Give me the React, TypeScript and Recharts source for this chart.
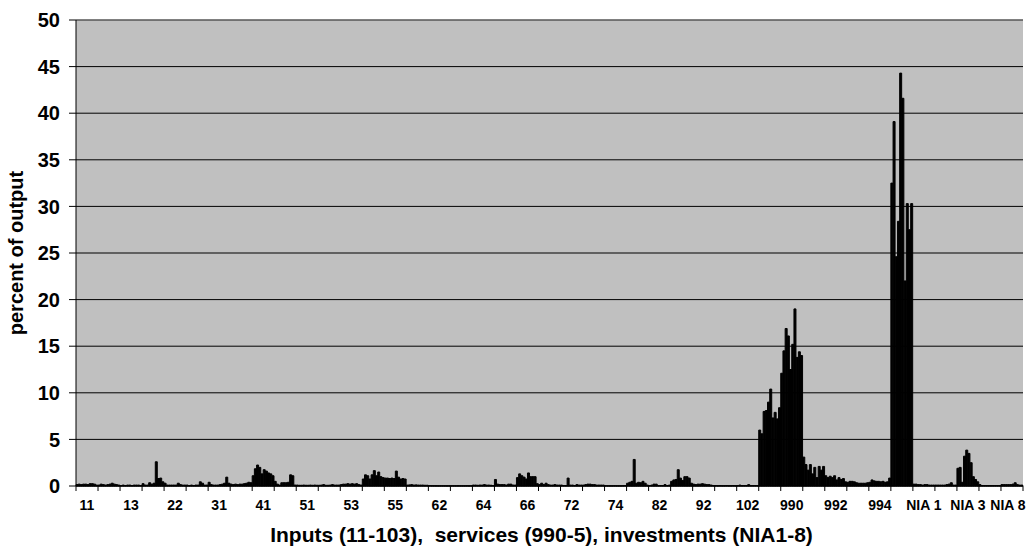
import { BarChart, Bar, XAxis, YAxis, CartesianGrid, ReferenceLine } from 'recharts';

// one label every 20 sectors, one tick mark every 10
const tickLabels = [
    '11', '13', '22', '31', '41', '51', '53', '55', '62', '64', '66',
    '72', '74', '82', '92', '102', '990', '992', '994', 'NIA 1', 'NIA 3', 'NIA 8',
];

const yTicks = [0, 5, 10, 15, 20, 25, 30, 35, 40, 45, 50];

// percent of output, one value per sector (10 per tick interval)
const values = [
    0.15, 0.2, 0.15, 0.2, 0.2, 0.15, 0.25, 0.25, 0.2, 0.1,
    0.1, 0.2, 0.15, 0.1, 0.15, 0.2, 0.3, 0.2, 0.15, 0.1,
    0.05, 0.1, 0.05, 0.1, 0.1, 0.05, 0.1, 0.1, 0.1, 0.05,
    0.25, 0.1, 0.1, 0.35, 0.2, 0.3, 2.6, 0.8, 0.85, 0.45,
    0.3, 0.1, 0.1, 0.1, 0.1, 0.1, 0.3, 0.15, 0.1, 0.1,
    0.1, 0.05, 0.1, 0.05, 0.1, 0.1, 0.45, 0.3, 0.1, 0.1,
    0.4, 0.15, 0.1, 0.1, 0.1, 0.15, 0.2, 0.3, 0.95, 0.3,
    0.2, 0.15, 0.2, 0.15, 0.2, 0.2, 0.25, 0.3, 0.4, 0.35,
    1.1, 1.85, 2.25, 2.0, 1.3, 1.75, 1.6, 1.4, 1.3, 1.1,
    0.5, 0.2, 0.1, 0.35, 0.35, 0.35, 0.4, 1.2, 1.1, 0.1,
    0.1, 0.08, 0.08, 0.1, 0.08, 0.08, 0.1, 0.08, 0.1, 0.08,
    0.08, 0.1, 0.15, 0.08, 0.08, 0.1, 0.15, 0.1, 0.1, 0.1,
    0.15, 0.2, 0.2, 0.25, 0.2, 0.25, 0.2, 0.25, 0.15, 0.1,
    0.75, 1.2, 1.1, 0.75, 1.2, 1.65, 1.1, 1.5, 1.0, 0.9,
    0.85, 0.85, 0.8, 0.85, 0.8, 1.6, 0.95, 0.75, 0.8, 0.75,
    0.1, 0.12, 0.15, 0.1, 0.12, 0.1, 0.1, 0.1, 0.08, 0.08,
    0.05, 0.03, 0.03, 0.03, 0.02, 0.02, 0.02, 0.02, 0.02, 0.02,
    0.02, 0.02, 0.02, 0.03, 0.02, 0.02, 0.02, 0.03, 0.02, 0.02,
    0.1, 0.1, 0.08, 0.1, 0.1, 0.15, 0.1, 0.1, 0.08, 0.05,
    0.7, 0.2, 0.15, 0.15, 0.15, 0.1, 0.2, 0.2, 0.1, 0.1,
    0.9, 1.3, 1.1, 0.95, 0.75, 1.4, 1.0, 1.0, 1.0, 0.25,
    0.15, 0.3, 0.15, 0.3, 0.15, 0.1, 0.1, 0.15, 0.1, 0.1,
    0.1, 0.05, 0.05, 0.85, 0.1, 0.1, 0.05, 0.15, 0.1, 0.1,
    0.1, 0.15, 0.2, 0.2, 0.15, 0.15, 0.1, 0.1, 0.1, 0.1,
    0.03, 0.02, 0.02, 0.02, 0.03, 0.02, 0.02, 0.02, 0.03, 0.05,
    0.3, 0.4, 0.5, 2.85, 0.3, 0.4, 0.35, 0.5, 0.3, 0.1,
    0.05, 0.1, 0.2, 0.2, 0.05, 0.05, 0.05, 0.15, 0.05, 0.1,
    0.5, 0.65, 0.7, 1.75, 0.85, 0.6, 1.0, 1.0, 0.85, 0.3,
    0.2, 0.15, 0.2, 0.2, 0.25, 0.2, 0.15, 0.15, 0.1, 0.05,
    0.05, 0.03, 0.05, 0.03, 0.03, 0.05, 0.03, 0.03, 0.05, 0.03,
    0.05, 0.1, 0.05, 0.05, 0.05, 0.15, 0.05, 0.05, 0.05, 0.05,
    6.0, 5.6, 8.0, 8.1, 9.0, 10.4, 7.3, 7.9, 7.2, 8.4,
    12.1, 14.5, 16.9, 16.1, 12.5, 15.2, 19.0, 13.8, 14.4, 14.0,
    3.1, 2.3, 1.7, 2.3, 1.3, 2.0, 0.9, 2.1, 1.7, 2.1,
    1.1, 0.9, 1.05, 0.9, 1.1, 0.65, 0.9, 0.7, 0.8, 0.45,
    0.4, 0.5, 0.5, 0.45, 0.35, 0.3, 0.3, 0.3, 0.3, 0.35,
    0.4, 0.65, 0.55, 0.5, 0.5, 0.45, 0.5, 0.4, 0.45, 0.85,
    32.5, 39.1, 24.6, 28.4, 44.3, 41.6, 22.0, 30.3, 27.5, 30.3,
    0.2, 0.2, 0.15, 0.15, 0.1, 0.15, 0.15, 0.1, 0.1, 0.1,
    0.1, 0.1, 0.1, 0.1, 0.1, 0.15, 0.2, 0.35, 0.1, 0.1,
    1.9, 2.0, 0.4, 3.2, 3.85, 3.5, 2.5, 1.0, 0.7, 0.45,
    0.15, 0.05, 0.05, 0.05, 0.05, 0.05, 0.05, 0.05, 0.05, 0.05,
    0.15, 0.15, 0.15, 0.15, 0.15, 0.2, 0.35, 0.15, 0.1, 0.1,
];

const data = values.map((v, i) => ({ i, v }));

const FONT = '"Liberation Sans", Arial, sans-serif';
const W = 1032;
const H = 550;
const MARGIN = { top: 20, right: 9, left: 0, bottom: 0 };
const Y_W = 76;
const X_H = 64;
const PLOT_W = W - MARGIN.left - MARGIN.right - Y_W;
const PLOT_BOTTOM = H - MARGIN.bottom - X_H;
const BAND = PLOT_W / values.length;
const GROUP = 10;

function XTick({ x, payload }: any) {
    const idx = payload.value as number;
    const left = x - BAND / 2;
    const marks = [left];
    if (idx + GROUP >= values.length) marks.push(left + GROUP * BAND);
    const g = idx / GROUP;
    const label = g % 2 === 0 ? tickLabels[g / 2] : null;
    const cx = Math.min(left + (GROUP / 2) * BAND, W - 24);
    return (
        <g>
            {marks.map((m) => (
                <line key={m} x1={m} x2={m} y1={PLOT_BOTTOM} y2={PLOT_BOTTOM + 5} stroke="#000" />
            ))}
            {label && (
                <text x={cx} y={PLOT_BOTTOM + 24} textAnchor="middle" fontSize={14} fontWeight="bold" fill="#000" fontFamily={FONT}>
                    {label}
                </text>
            )}
        </g>
    );
}

function XTitle({ viewBox }: any) {
    const cx = viewBox.x + viewBox.width / 2 - 8;
    return (
        <text x={cx} y={H - 8} textAnchor="middle" fontSize={21} fontWeight="bold" fill="#000" fontFamily={FONT} style={{ whiteSpace: 'pre' }}>
            {'Inputs (11-103),  services (990-5), investments (NIA1-8)'}
        </text>
    );
}

function YTitle({ viewBox }: any) {
    const cy = viewBox.y + viewBox.height / 2;
    const x = 23;
    return (
        <text x={x} y={cy} transform={`rotate(-90 ${x} ${cy})`} textAnchor="middle" fontSize={20} fontWeight="bold" fill="#000" fontFamily={FONT}>
            percent of output
        </text>
    );
}

export default function App() {
    return (
        <div style={{ position: 'absolute', left: 0, top: 0, width: W, height: H, background: '#fff', fontFamily: FONT }}>
            <BarChart width={W} height={H} data={data} margin={MARGIN} barCategoryGap={0} barGap={0}>
                <CartesianGrid vertical={false} stroke="#000" fill="#c0c0c0" fillOpacity={1} />
                <XAxis
                    dataKey="i"
                    type="category"
                    interval={GROUP - 1}
                    height={X_H}
                    tickLine={false}
                    axisLine={{ stroke: '#000' }}
                    tick={<XTick />}
                    label={<XTitle />}
                />
                <YAxis
                    domain={[0, 50]}
                    ticks={yTicks}
                    interval={0}
                    width={Y_W}
                    tickSize={7}
                    tickMargin={9}
                    tickLine={{ stroke: '#000' }}
                    axisLine={{ stroke: '#000' }}
                    tick={{ fontSize: 20, fontWeight: 'bold', fill: '#000', fontFamily: FONT }}
                    label={<YTitle />}
                />
                <YAxis yAxisId="frame" orientation="right" width={0} domain={[0, 50]} tick={false} tickLine={false} axisLine={{ stroke: '#808080' }} />
                <ReferenceLine y={50} stroke="#808080" />
                <Bar dataKey="v" fill="#000" stroke="#000" strokeWidth={1} isAnimationActive={false} />
            </BarChart>
        </div>
    );
}
